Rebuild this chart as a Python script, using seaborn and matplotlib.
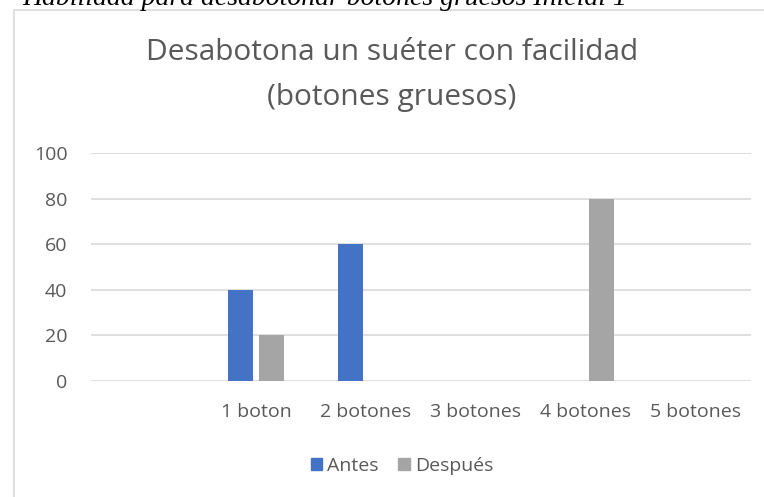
import matplotlib
matplotlib.use("Agg")
import matplotlib.pyplot as plt
import matplotlib.patches as mpatches
import seaborn as sns
import pandas as pd

# datos
categorias = [" ", "1 boton", "2 botones", "3 botones", "4 botones", "5 botones"]
antes = [0, 40, 60, 0, 0, 0]
despues = [0, 20, 0, 0, 80, 0]
series = ["Antes", "Después"]
colores = ["#4472C4", "#A5A5A5"]
yticks = [0, 20, 40, 60, 80, 100]

df = pd.DataFrame({
    "categoria": categorias * 2,
    "serie": [series[0]] * len(categorias) + [series[1]] * len(categorias),
    "valor": antes + despues,
})

sns.set_style("white")
plt.rcParams["font.family"] = ["Open Sans", "DejaVu Sans"]

fig = plt.figure(figsize=(7.64, 4.97), dpi=100)
ax = fig.add_axes([91 / 764, 1 - 381 / 497, 660 / 764, 228 / 497])

# marco del gráfico
fig.patches.append(mpatches.Rectangle((14 / 764, -0.1), 1.2, 1 - 10 / 497 + 0.1,
                                      transform=fig.transFigure, fill=False,
                                      edgecolor="#D9D9D9", linewidth=1.2))

sns.barplot(data=df, x="categoria", y="valor", hue="serie", palette=colores,
            saturation=1, width=0.56, gap=0.21, linewidth=0, ax=ax, legend=False)

ax.set_ylim(0, 100)
ax.set_yticks(yticks)
ax.set_xlim(-0.5, len(categorias) - 0.5)
ax.yaxis.grid(True, color="#D9D9D9", linewidth=1.2)
ax.set_axisbelow(True)
for s in ax.spines.values():
    s.set_visible(False)
ax.tick_params(axis="both", length=0, labelsize=14, colors="#595959")
ax.tick_params(axis="y", pad=17)
ax.tick_params(axis="x", pad=16)
ax.set_xlabel("")
ax.set_ylabel("")

fig.text(392 / 764, 1 - 52 / 497, "Desabotona un suéter con facilidad",
         ha="center", va="center", fontsize=21.5, color="#595959")
fig.text(392 / 764, 1 - 97 / 497, "(botones gruesos)",
         ha="center", va="center", fontsize=21.5, color="#595959")

# texto del documento, cortado arriba
fig.text(325 / 764, 1 - 5 / 497, "Habilidad para desabotonar botones gruesos Inicial 1",
         ha="center", va="baseline", fontsize=20, style="italic",
         family="Liberation Serif", color="black")

handles = [mpatches.Patch(color=c, label=s) for c, s in zip(colores, series)]
fig.legend(handles=handles, loc="center", bbox_to_anchor=(402 / 764, 1 - 466 / 497),
           ncol=2, frameon=False, fontsize=14, handlelength=0.6, handleheight=0.6,
           handletextpad=0.25, columnspacing=1.0, labelcolor="#595959")

fig.savefig("out.png", dpi=100)
